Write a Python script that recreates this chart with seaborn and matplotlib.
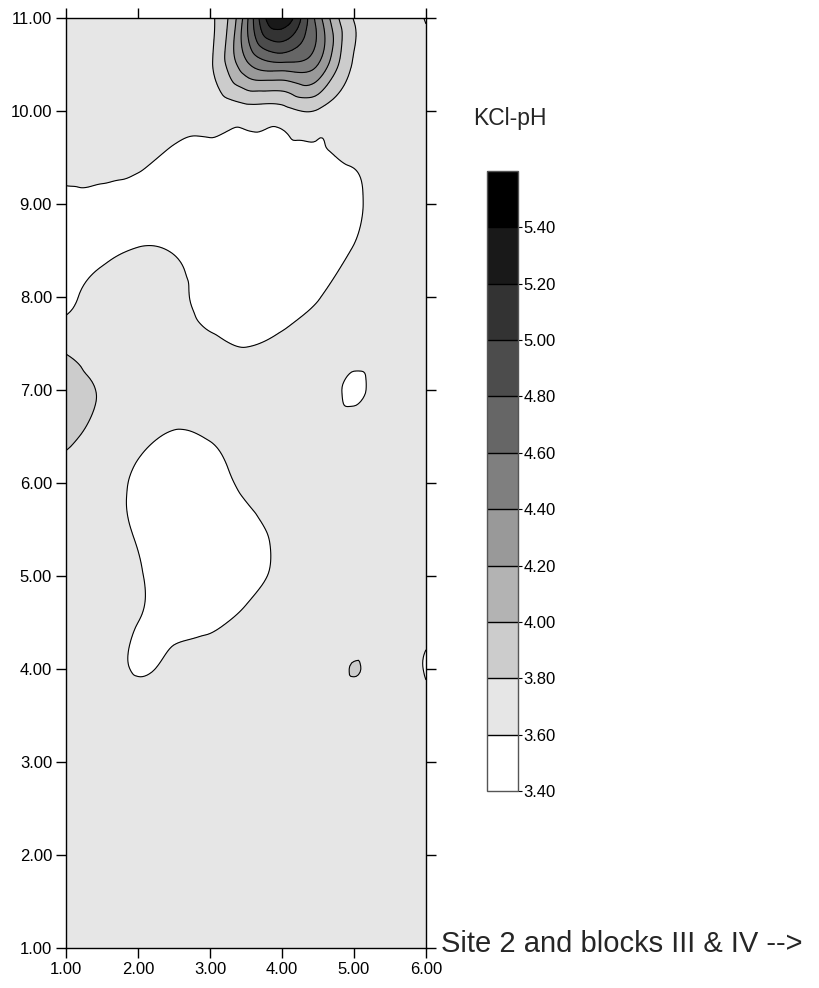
import numpy as np
import matplotlib
matplotlib.use("Agg")
import matplotlib.pyplot as plt
import matplotlib.tri as mtri
import seaborn as sns

# grid (x across, y from top row 11.0 down to 1.0)
x_pos = [1.0, 1.5, 2.0, 2.5, 3.0, 3.5, 4.0, 4.5, 5.0, 5.5, 6.0]
y_pos = [11.0, 10.5, 10.0, 9.5, 9.0, 8.5, 8.0, 7.5, 7.0, 6.5, 6.0,
         5.5, 5.0, 4.5, 4.0, 3.5, 3.0, 2.5, 2.0, 1.5, 1.0]
ph_rows = [
    [3.70, 3.70, 3.70, 3.70, 3.76, 4.52, 5.38, 4.50, 3.79, 3.70, 3.59],
    [3.70, 3.70, 3.70, 3.70, 3.77, 4.35, 4.55, 4.40, 3.78, 3.70, 3.66],
    [3.70, 3.70, 3.70, 3.68, 3.67, 3.72, 3.73, 3.78, 3.71, 3.70, 3.70],
    [3.68, 3.68, 3.65, 3.56, 3.56, 3.575, 3.56, 3.58, 3.625, 3.70, 3.70],
    [3.54, 3.54, 3.53, 3.50, 3.48, 3.48, 3.50, 3.54, 3.57, 3.70, 3.70],
    [3.55, 3.56, 3.61, 3.59, 3.52, 3.50, 3.52, 3.55, 3.61, 3.70, 3.70],
    [3.54, 3.65, 3.68, 3.64, 3.55, 3.52, 3.54, 3.595, 3.68, 3.70, 3.70],
    [3.75, 3.70, 3.70, 3.68, 3.63, 3.59, 3.63, 3.67, 3.69, 3.70, 3.70],
    [3.93, 3.78, 3.70, 3.68, 3.68, 3.68, 3.70, 3.70, 3.575, 3.70, 3.70],
    [3.85, 3.72, 3.64, 3.585, 3.61, 3.67, 3.70, 3.70, 3.70, 3.70, 3.70],
    [3.72, 3.68, 3.57, 3.52, 3.54, 3.63, 3.69, 3.70, 3.70, 3.70, 3.70],
    [3.70, 3.69, 3.58, 3.50, 3.49, 3.55, 3.64, 3.70, 3.70, 3.70, 3.70],
    [3.70, 3.70, 3.615, 3.52, 3.49, 3.55, 3.63, 3.70, 3.70, 3.70, 3.70],
    [3.70, 3.69, 3.60, 3.57, 3.58, 3.63, 3.68, 3.70, 3.70, 3.70, 3.65],
    [3.70, 3.70, 3.585, 3.64, 3.65, 3.68, 3.70, 3.70, 3.805, 3.70, 3.59],
    [3.70, 3.70, 3.70, 3.70, 3.70, 3.70, 3.70, 3.70, 3.70, 3.70, 3.65],
    [3.70, 3.70, 3.70, 3.70, 3.70, 3.70, 3.70, 3.70, 3.70, 3.70, 3.70],
    [3.70, 3.70, 3.70, 3.70, 3.70, 3.70, 3.70, 3.70, 3.70, 3.70, 3.70],
    [3.70, 3.70, 3.70, 3.70, 3.70, 3.70, 3.70, 3.70, 3.70, 3.70, 3.70],
    [3.70, 3.70, 3.70, 3.70, 3.70, 3.70, 3.70, 3.70, 3.70, 3.70, 3.70],
    [3.70, 3.70, 3.70, 3.70, 3.70, 3.70, 3.70, 3.70, 3.70, 3.70, 3.70],
]

levels = [3.40, 3.60, 3.80, 4.00, 4.20, 4.40, 4.60, 4.80, 5.00, 5.20, 5.40, 5.60]
bar_ticks = [3.40, 3.60, 3.80, 4.00, 4.20, 4.40, 4.60, 4.80, 5.00, 5.20, 5.40]
x_ticks = [1, 2, 3, 4, 5, 6]
y_ticks = [1, 2, 3, 4, 5, 6, 7, 8, 9, 10, 11]

sns.set_style("ticks")
plt.rcParams['font.family'] = ['Liberation Sans', 'DejaVu Sans']

fig = plt.figure(figsize=(8.2, 9.88), dpi=100)
ax = fig.add_axes([66/820, 1 - 948/988, 360/820, 930/988])

# regular grid -> triangles with the same diagonal in every cell
X, Y = np.meshgrid(x_pos, y_pos)
Z = np.array(ph_rows)
nr, nc = Z.shape
tris = []
for i in range(nr - 1):
    for j in range(nc - 1):
        a = i * nc + j
        tris.append([a, a + 1, a + nc])
        tris.append([a + 1, a + nc + 1, a + nc])
tri = mtri.Triangulation(X.ravel(), Y.ravel(), tris)
interp = mtri.CubicTriInterpolator(tri, Z.ravel(), kind='min_E')
tri_f, z_f = mtri.UniformTriRefiner(tri).refine_field(Z.ravel(), triinterpolator=interp, subdiv=4)

greys = sns.blend_palette(['white', 'black'], len(levels) - 1)
cf = ax.tricontourf(tri_f, z_f, levels=levels, colors=greys)
ax.tricontour(tri_f, z_f, levels=levels, colors='black', linewidths=0.8)

ax.set_xlim(1, 6)
ax.set_ylim(1, 11)
ax.set_xticks(x_ticks)
ax.set_yticks(y_ticks)
ax.set_xticklabels(['%.2f' % v for v in x_ticks])
ax.set_yticklabels(['%.2f' % v for v in y_ticks])
ax.tick_params(direction='out', length=7, width=1, top=True, right=True,
               labelsize=12, pad=3, colors='black')
for s in ax.spines.values():
    s.set_color('black')
    s.set_linewidth(1)

cax = fig.add_axes([487/820, 1 - 791/988, 31/820, 620/988])
cb = fig.colorbar(cf, cax=cax, ticks=bar_ticks, drawedges=True)
cb.ax.set_yticklabels(['%.2f' % v for v in bar_ticks])
cb.outline.set_edgecolor('#555555')
cb.outline.set_linewidth(1)
cb.dividers.set_color('black')
cb.dividers.set_linewidth(1)
cax.tick_params(length=3, width=0.8, labelsize=12, pad=1, colors='black')

fig.text(473/820, 1 - 118/988, 'KCl-pH', fontsize=16.5, va='center')
fig.text(441/820, 1 - 944/988, 'Site 2 and blocks III & IV -->', fontsize=21, va='center')

fig.savefig('out.png', dpi=100)
